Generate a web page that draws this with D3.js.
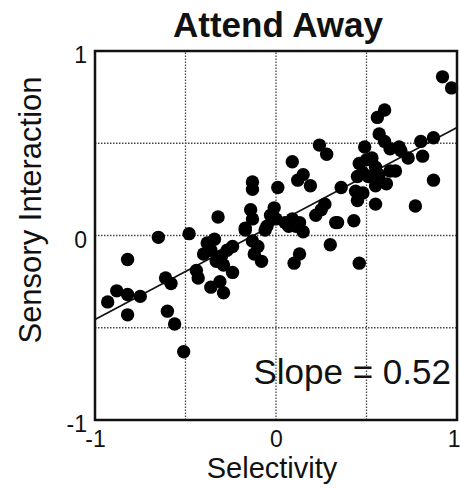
<!DOCTYPE html>
<html><head><meta charset="utf-8">
<script src="https://cdn.jsdelivr.net/npm/d3@7"></script>
<style>body{margin:0;background:#fff}svg{display:block}text{font-family:"Liberation Sans",Arial,Helvetica,sans-serif;fill:#111}</style>
</head><body><div id="chart"></div>
<script>
const xs = [-0.93,-0.88,-0.82,-0.75,-0.82,-0.82,-0.65,-0.48,-0.61,-0.58,-0.60,-0.56,-0.51,
 -0.44,-0.43,-0.38,-0.40,-0.36,-0.33,-0.36,-0.31,-0.29,-0.24,-0.29,-0.27,-0.24,-0.17,-0.32,-0.34,-0.30,
 -0.14,-0.13,-0.17,-0.13,-0.13,0.01,-0.01,-0.03,-0.05,-0.06,0.00,0.05,0.09,0.07,0.11,0.15,0.13,0.22,0.25,0.27,
 0.33,0.30,-0.13,-0.10,-0.12,-0.08,0.13,0.10,0.09,0.15,0.19,0.12,0.24,0.28,
 0.92,0.97,0.60,0.56,0.57,0.60,0.63,0.68,0.69,0.73,0.80,0.87,0.81,0.49,0.46,0.50,0.53,0.55,0.48,0.45,0.51,0.57,0.63,0.66,
 0.36,0.44,0.45,0.48,0.55,0.61,0.55,0.77,0.87,0.43,0.46,0.34];
const ys = [-0.36,-0.30,-0.32,-0.33,-0.43,-0.13,-0.01,0.01,-0.23,-0.26,-0.41,-0.48,-0.63,
 -0.19,-0.23,-0.04,-0.10,-0.08,-0.14,-0.28,-0.25,-0.31,-0.20,-0.16,-0.08,-0.06,0.03,0.10,-0.02,-0.11,
 0.14,0.09,0.04,0.29,0.25,0.26,0.15,0.11,0.05,0.03,0.09,0.07,0.09,0.05,0.05,0.02,0.07,0.11,0.14,0.17,
 0.07,-0.05,-0.03,-0.06,-0.10,-0.14,-0.10,-0.15,0.40,0.33,0.27,0.30,0.49,0.44,
 0.86,0.80,0.68,0.64,0.55,0.51,0.47,0.48,0.46,0.42,0.51,0.53,0.43,0.48,0.39,0.41,0.42,0.37,0.34,0.32,0.32,0.33,0.35,0.35,
 0.26,0.24,0.19,0.23,0.27,0.28,0.17,0.16,0.30,0.08,-0.15,0.07];
const xTicks = [-1, 0, 1];
const yTicks = [-1, 0, 1];
const gridVals = [-0.5, 0, 0.5];
const slope = 0.52, intercept = 0.065;
const titleText = "Attend Away", xLabel = "Selectivity", yLabel = "Sensory Interaction", note = "Slope = 0.52";

const W = 461, H = 491;
const m = {left: 95, right: 4, top: 51, bottom: 71};
const svg = d3.select("#chart").append("svg").attr("width", W).attr("height", H);
const x = d3.scaleLinear().domain([-1, 1]).range([m.left, W - m.right]);
const y = d3.scaleLinear().domain([-1, 1]).range([H - m.bottom, m.top]);
const fmt = d => String(d);
const font = '"Liberation Sans",Arial,Helvetica,sans-serif';

// grid
svg.append("g").selectAll("line").data(gridVals).join("line")
  .attr("x1", d => x(d)).attr("x2", d => x(d)).attr("y1", y(-1)).attr("y2", y(1))
  .attr("stroke", "#444").attr("stroke-width", 1.3).attr("stroke-dasharray", "1.5,1.5");
svg.append("g").selectAll("line").data(gridVals).join("line")
  .attr("y1", d => y(d)).attr("y2", d => y(d)).attr("x1", x(-1)).attr("x2", x(1))
  .attr("stroke", "#444").attr("stroke-width", 1.3).attr("stroke-dasharray", "1.5,1.5");

// regression line
svg.append("line")
  .attr("x1", x(-1)).attr("y1", y(slope * -1 + intercept))
  .attr("x2", x(1)).attr("y2", y(slope * 1 + intercept))
  .attr("stroke", "#111").attr("stroke-width", 1.6);

// points
const pts = xs.map((v, i) => ({x: v, y: ys[i]}));
svg.append("g").selectAll("circle").data(pts).join("circle")
  .attr("cx", d => x(d.x)).attr("cy", d => y(d.y)).attr("r", 6.7).attr("fill", "#000");

// frame
svg.append("rect").attr("x", x(-1)).attr("y", y(1)).attr("width", x(1) - x(-1)).attr("height", y(-1) - y(1))
  .attr("fill", "none").attr("stroke", "#111").attr("stroke-width", 2.5);

// axes
const xAxis = d3.axisBottom(x).tickValues(xTicks).tickSize(0).tickPadding(11).tickFormat(fmt);
const gx = svg.append("g").attr("transform", `translate(0,${y(-1)})`).call(xAxis);
gx.select(".domain").remove();
gx.selectAll("text").attr("font-size", 23).attr("dy", "0.71em").style("font-family", font).attr("fill", "#111")
  .attr("text-anchor", d => d === 1 ? "end" : "middle").attr("dx", d => d === 1 ? 3 : 0);

const yAxis = d3.axisLeft(y).tickValues(yTicks).tickSize(0).tickPadding(8).tickFormat(fmt);
const gy = svg.append("g").attr("transform", `translate(${x(-1)},0)`).call(yAxis);
gy.select(".domain").remove();
gy.selectAll("text").attr("font-size", 23).attr("dy", "0.5em").style("font-family", font).attr("fill", "#111");

// texts
svg.append("text").attr("x", 278).attr("y", 37).attr("text-anchor", "middle")
  .attr("font-size", 35).attr("font-weight", "bold").text(titleText);
svg.append("text").attr("x", 272).attr("y", 478).attr("text-anchor", "middle")
  .attr("font-size", 29).text(xLabel);
svg.append("text").attr("transform", "translate(41,210) rotate(-90)").attr("text-anchor", "middle")
  .attr("font-size", 31).text(yLabel);
svg.append("text").attr("x", 451).attr("y", 384).attr("text-anchor", "end")
  .attr("font-size", 35).text(note);
</script></body></html>
